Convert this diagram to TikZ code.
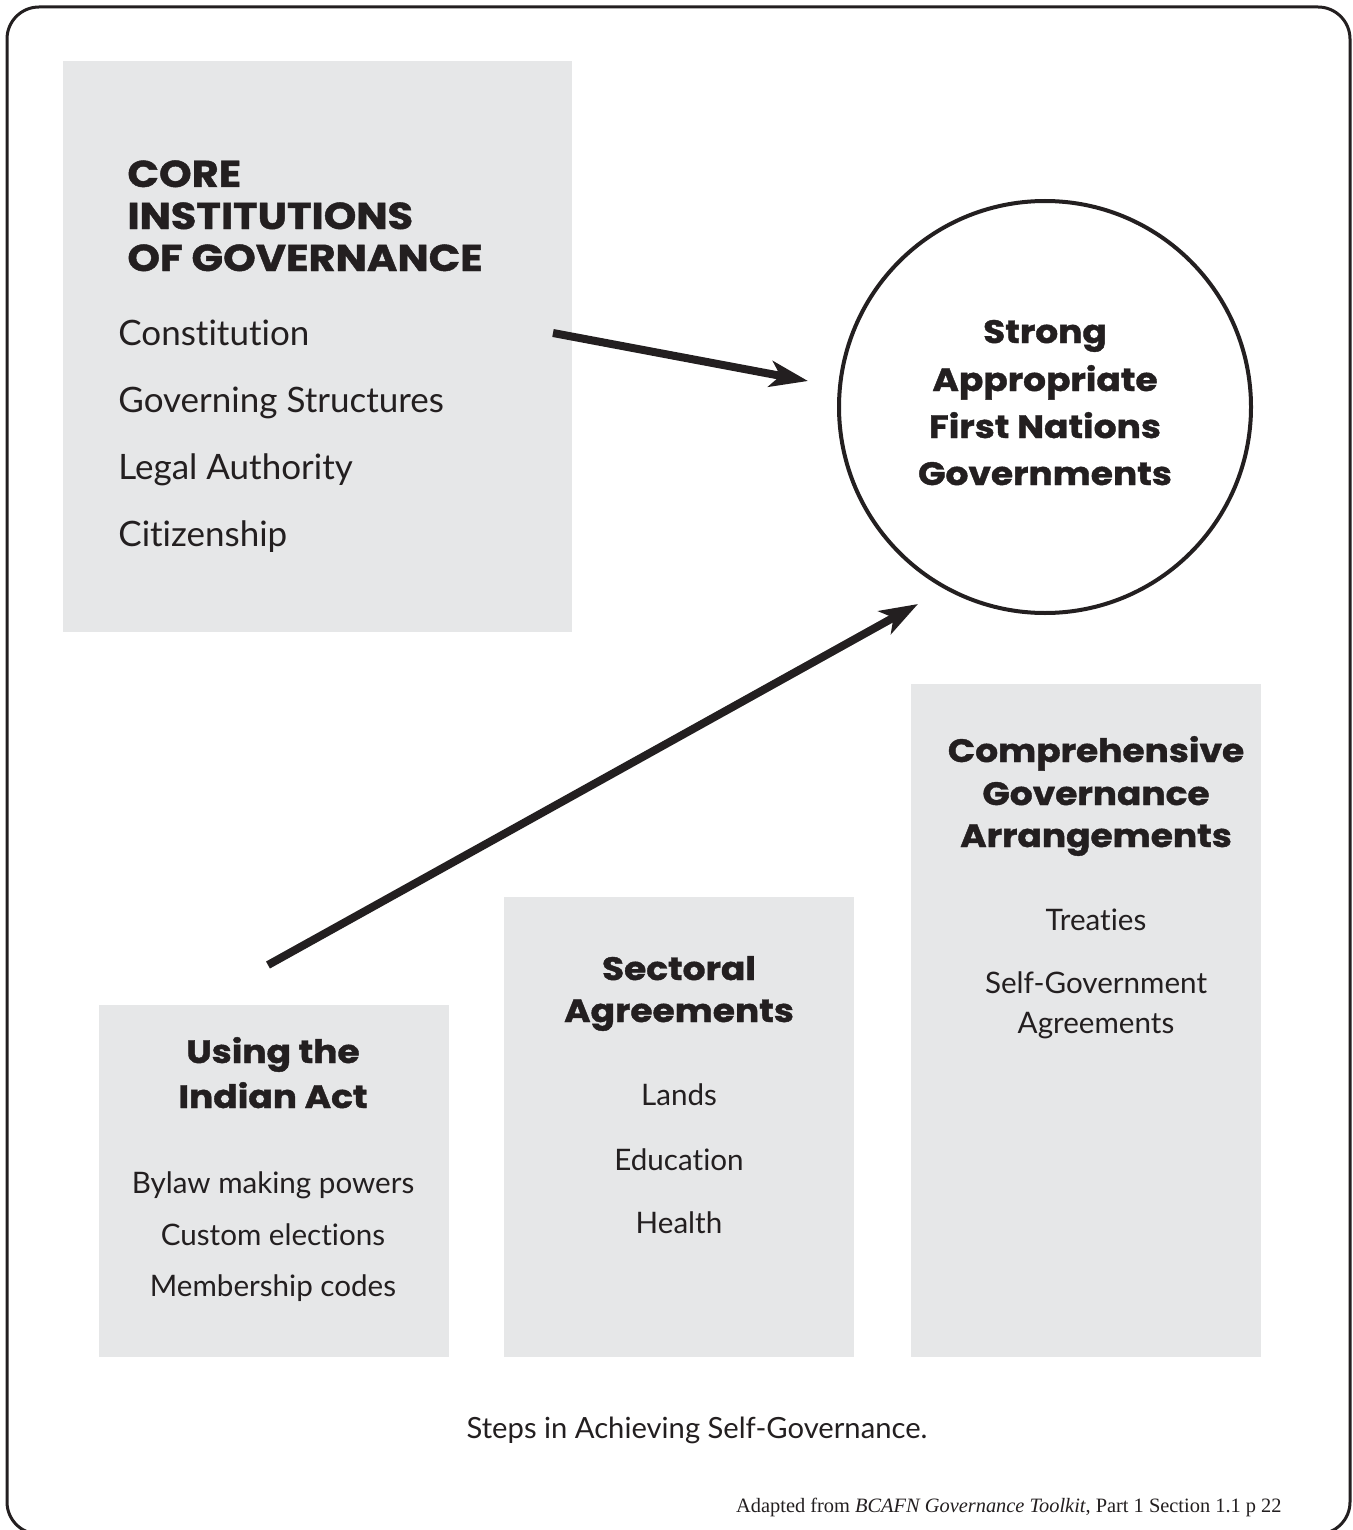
\documentclass[tikz,border=0pt]{standalone}
\usepackage{fontspec}
\setmainfont{Lato}[Ligatures=NoCommon]
\newfontfamily\headfont{Poppins}[FakeStretch=1.11, FakeBold=1.2]
\newfontfamily\notefont{Liberation Serif}
\usetikzlibrary{arrows.meta,fit}

\begin{document}
\begin{tikzpicture}[x=0.5pt,y=-0.5pt]
        \definecolor{boxgray}{RGB}{230,231,232}
        \definecolor{ink}{RGB}{35,31,32}
        \tikzset{
            panel/.style={fill=boxgray, draw=none, inner sep=0pt},
            head/.style={font=\headfont\bfseries\fontsize{16.2}{16.2}\selectfont, text=ink, anchor=base, inner sep=0pt},
            bighead/.style={head, font=\headfont\bfseries\fontsize{18.7}{18.7}\selectfont, anchor=base west},
            item/.style={font=\fontsize{14.8}{14.8}\selectfont, text=ink, anchor=base, inner sep=0pt},
            bigitem/.style={item, font=\fontsize{17.5}{17.5}\selectfont, anchor=base west},
            bigarrow/.style={line width=4pt, draw=ink, -{Stealth[length=19pt,width=13pt,inset=5pt]}},
        }
        \useasboundingbox (0,0) rectangle (1353,1530);

        % Outer frame, bottom edge runs off the page
        \draw[ink, line width=1.5pt, rounded corners=16pt] (7,7) rectangle (1350,1534);

        % Grey panels
        \node[panel, fit={(63,61) (572,632)}] (core) {};
        \node[panel, fit={(99,1005) (449,1357)}] (act) {};
        \node[panel, fit={(504,897) (854,1357)}] (sector) {};
        \node[panel, fit={(911,684) (1261,1357)}] (compr) {};

        % Goal circle
        \node[draw=ink, line width=2pt, circle, minimum size=206pt, inner sep=0pt] (strong) at (1045,407) {};

        % Core institutions
        \node[bighead] (core-h1) at (127,187) {CORE};
        \node[bighead] (core-h2) at (127,229) {INSTITUTIONS};
        \node[bighead] (core-h3) at (127,271) {OF GOVERNANCE};
        \node[bigitem] (core-i1) at (118,345) {Constitution};
        \node[bigitem] (core-i2) at (118,412) {Governing Structures};
        \node[bigitem] (core-i3) at (118,479) {Legal Authority};
        \node[bigitem] (core-i4) at (118,546) {Citizenship};

        % Circle labels
        \node[head] (strong-1) at (1045,343) {Strong};
        \node[head] (strong-2) at (1045,391) {Appropriate};
        \node[head] (strong-3) at (1045,438) {First Nations};
        \node[head] (strong-4) at (1045,485) {Governments};

        % Indian Act step
        \node[head] (act-h1) at (273,1063) {Using the};
        \node[head] (act-h2) at (273,1108) {Indian Act};
        \node[item] (act-i1) at (273,1193) {Bylaw making powers};
        \node[item] (act-i2) at (273,1245) {Custom elections};
        \node[item] (act-i3) at (273,1296) {Membership codes};

        % Sectoral step
        \node[head] (sector-h1) at (679,980) {Sectoral};
        \node[head] (sector-h2) at (679,1022) {Agreements};
        \node[item] (sector-i1) at (679,1105) {Lands};
        \node[item] (sector-i2) at (679,1170) {Education};
        \node[item] (sector-i3) at (679,1233) {Health};

        % Comprehensive step
        \node[head] (compr-h1) at (1096,762) {Comprehensive};
        \node[head] (compr-h2) at (1096,805) {Governance};
        \node[head] (compr-h3) at (1096,847) {Arrangements};
        \node[item] (compr-i1) at (1096,930) {Treaties};
        \node[item] (compr-i2) at (1096,993) {Self-Government};
        \node[item] (compr-i3) at (1096,1033) {Agreements};

        % Arrows
        \coordinate (core-out) at (553,333);
        \coordinate (strong-w) at (808,381);
        \coordinate (act-out) at (268,965);
        \coordinate (strong-sw) at (918,604);
        \draw[bigarrow] (core-out) -- (strong-w);
        \draw[bigarrow] (act-out) -- (strong-sw);

        % Caption and source
        \node[item, font=\fontsize{14.6}{14.6}\selectfont] (caption) at (697,1438) {Steps in Achieving Self-Governance.};
        \node[anchor=base east, inner sep=0pt, text=ink, font=\notefont\fontsize{10.2}{10.2}\selectfont] (source) at (1282,1512) {Adapted from \textit{BCAFN Governance Toolkit}, Part 1 Section 1.1 p 22};
    \end{tikzpicture}
\end{document}
